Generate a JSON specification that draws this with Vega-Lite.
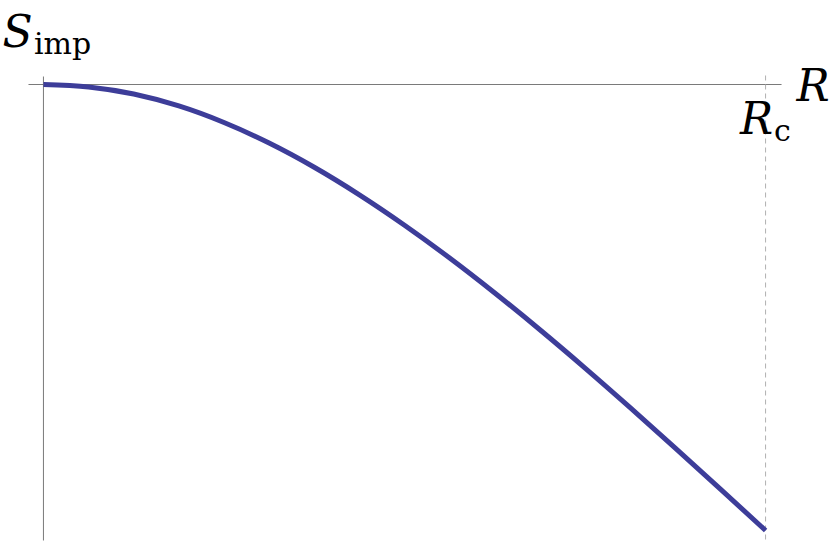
{
  "$schema": "https://vega.github.io/schema/vega-lite/v6.json",
  "autosize": {"type": "fit", "contains": "padding"},
  "width": 830,
  "height": 543,
  "padding": 0,
  "background": "white",
  "config": {"view": {"stroke": null}},
  "datasets": {
    "curve": [
      {"R": 0.0, "S": 0.0},
      {"R": 0.0625, "S": -0.0055},
      {"R": 0.125, "S": -0.0213},
      {"R": 0.1875, "S": -0.0481},
      {"R": 0.25, "S": -0.0852},
      {"R": 0.3125, "S": -0.1313},
      {"R": 0.375, "S": -0.1856},
      {"R": 0.4375, "S": -0.2474},
      {"R": 0.5, "S": -0.3155},
      {"R": 0.5625, "S": -0.389},
      {"R": 0.625, "S": -0.4674},
      {"R": 0.6875, "S": -0.5498},
      {"R": 0.75, "S": -0.6357},
      {"R": 0.8125, "S": -0.7244},
      {"R": 0.875, "S": -0.8151},
      {"R": 0.9375, "S": -0.9072},
      {"R": 1.0, "S": -1.0}
    ],
    "haxis": [{"x1": -0.0207, "x2": 1.0221, "y": 0}],
    "vaxis": [{"x": 0, "y1": 0.0179, "y2": -1.0224}],
    "dash": [{"x": 1, "y1": 0.0202, "y2": -1.0224}],
    "labels": [
      {"t": "S", "x": -0.0567, "y": 0.0852, "kind": "main"},
      {"t": "imp", "x": -0.0131, "y": 0.0673, "kind": "sub"},
      {"t": "R", "x": 1.0429, "y": -0.0359, "kind": "main"},
      {"t": "R", "x": 0.9645, "y": -0.1121, "kind": "main"},
      {"t": "c", "x": 1.0118, "y": -0.1278, "kind": "sub"}
    ]
  },
  "layer": [
    {
      "data": {"name": "haxis"},
      "mark": {"type": "rule", "color": "#7a7a7a", "strokeWidth": 1},
      "encoding": {
        "x": {"field": "x1", "type": "quantitative", "scale": {"domain": [-0.060166, 1.087828], "nice": false, "zero": false}, "axis": null},
        "x2": {"field": "x2"},
        "y": {"field": "y", "type": "quantitative", "scale": {"domain": [-1.028027, 0.189462], "nice": false, "zero": false}, "axis": null}
      }
    },
    {
      "data": {"name": "vaxis"},
      "mark": {"type": "rule", "color": "#7a7a7a", "strokeWidth": 1},
      "encoding": {
        "x": {"field": "x", "type": "quantitative"},
        "y": {"field": "y1", "type": "quantitative"},
        "y2": {"field": "y2"}
      }
    },
    {
      "data": {"name": "dash"},
      "mark": {"type": "rule", "color": "#b0b0b0", "strokeWidth": 1, "strokeDash": [5, 4]},
      "encoding": {
        "x": {"field": "x", "type": "quantitative"},
        "y": {"field": "y1", "type": "quantitative"},
        "y2": {"field": "y2"}
      }
    },
    {
      "data": {"name": "curve"},
      "mark": {"type": "line", "color": "#3d3d99", "strokeWidth": 5, "interpolate": "monotone", "strokeCap": "butt"},
      "encoding": {
        "x": {"field": "R", "type": "quantitative"},
        "y": {"field": "S", "type": "quantitative"}
      }
    },
    {
      "data": {"name": "labels"},
      "transform": [{"filter": "datum.kind === 'main'"}],
      "mark": {"type": "text", "font": "DejaVu Serif", "fontStyle": "italic", "fontSize": 44, "align": "left", "baseline": "alphabetic", "color": "black"},
      "encoding": {
        "x": {"field": "x", "type": "quantitative"},
        "y": {"field": "y", "type": "quantitative"},
        "text": {"field": "t"}
      }
    },
    {
      "data": {"name": "labels"},
      "transform": [{"filter": "datum.kind === 'sub'"}],
      "mark": {"type": "text", "font": "DejaVu Serif", "fontSize": 30, "align": "left", "baseline": "alphabetic", "color": "black"},
      "encoding": {
        "x": {"field": "x", "type": "quantitative"},
        "y": {"field": "y", "type": "quantitative"},
        "text": {"field": "t"}
      }
    }
  ]
}
